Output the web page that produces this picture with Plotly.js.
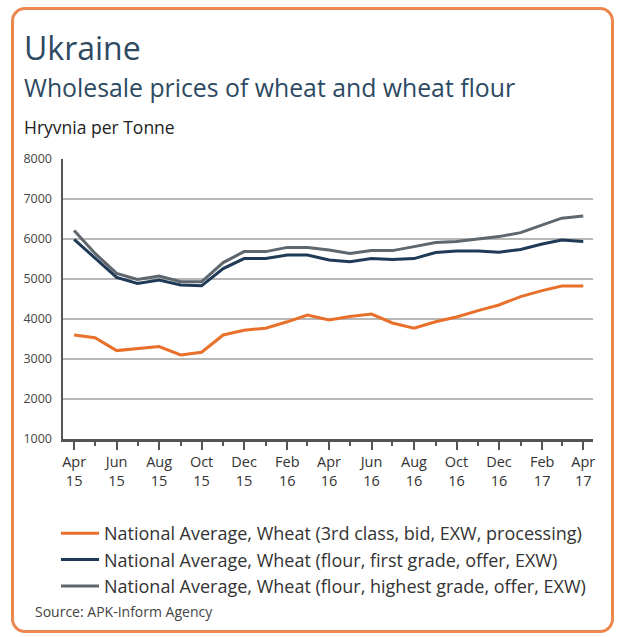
<!DOCTYPE html>
<html>
<head>
<meta charset="utf-8">
<script src="https://cdn.plot.ly/plotly-3.0.1.min.js"></script>
<style>
  html, body { margin: 0; padding: 0; background: #ffffff; }
  #wrap { position: relative; width: 619px; height: 637px; }
  #chart { position: absolute; left: 0; top: 0; width: 619px; height: 637px; }
  #frame { position: absolute; left: 11px; top: 7px; width: 597px; height: 620px;
           border: 3px solid #EE8650; border-radius: 14px; pointer-events: none; }
</style>
</head>
<body>
<div id="wrap">
  <div id="chart"></div>
  <div id="frame"></div>
</div>
<script>
// ---- data (monthly, Apr 2015 - Apr 2017), UAH per tonne ----
const months = ['2015-04-01','2015-05-01','2015-06-01','2015-07-01','2015-08-01','2015-09-01',
                '2015-10-01','2015-11-01','2015-12-01','2016-01-01','2016-02-01','2016-03-01',
                '2016-04-01','2016-05-01','2016-06-01','2016-07-01','2016-08-01','2016-09-01',
                '2016-10-01','2016-11-01','2016-12-01','2017-01-01','2017-02-01','2017-03-01',
                '2017-04-01'];
const wheat3rd = [3600, 3530, 3210, 3250, 3310, 3100, 3170, 3600, 3720, 3770, 3930, 4100,
                  3975, 4060, 4125, 3900, 3770, 3930, 4050, 4210, 4350, 4560, 4710, 4825, 4825];
const flourFirst = [5990, 5520, 5040, 4890, 4975, 4850, 4830, 5260, 5510, 5510, 5600, 5600,
                    5475, 5430, 5510, 5490, 5510, 5660, 5700, 5700, 5670, 5740, 5875, 5975, 5940];
const flourHighest = [6210, 5640, 5140, 4990, 5075, 4930, 4930, 5410, 5685, 5685, 5790, 5790,
                      5725, 5640, 5710, 5710, 5810, 5910, 5935, 6000, 6060, 6160, 6350, 6520, 6575];
const seriesNames = ['National Average, Wheat (3rd class, bid, EXW, processing)',
                     'National Average, Wheat (flour, first grade, offer, EXW)',
                     'National Average, Wheat (flour, highest grade, offer, EXW)'];
const yTicks = [1000, 2000, 3000, 4000, 5000, 6000, 7000, 8000];

// ---- layout helpers (pixel -> paper) ----
const W = 619, H = 637;
const M = { l: 63, r: 26, t: 159, b: 198 };
const PW = W - M.l - M.r, PH = H - M.t - M.b;
const px = x => (x - M.l) / PW;
const py = y => (H - M.b - y) / PH;

const FONT = 'Open Sans, Noto Sans, sans-serif';

const traces = [
  { x: months, y: wheat3rd, name: seriesNames[0], color: '#E8702A', group: 'a' },
  { x: months, y: flourFirst, name: seriesNames[1], color: '#1F3A56', group: 'b' },
  { x: months, y: flourHighest, name: seriesNames[2], color: '#5E666E', group: 'c' }
].map(s => ({
  type: 'scatter', mode: 'lines', x: s.x, y: s.y, name: s.name, legendgroup: s.group,
  line: { color: s.color, width: 3 }, hoverinfo: 'skip'
}));

const layout = {
  width: W, height: H,
  margin: M,
  paper_bgcolor: 'rgba(0,0,0,0)',
  plot_bgcolor: 'rgba(0,0,0,0)',
  font: { family: FONT, color: '#333' },
  showlegend: true,
  legend: {
    x: px(56), y: py(515), xanchor: 'left', yanchor: 'top',
    traceorder: 'grouped', tracegroupgap: 0,
    font: { family: FONT, size: 18, color: '#333' },
    bgcolor: 'rgba(0,0,0,0)', itemwidth: 38
  },
  xaxis: {
    type: 'date',
    range: ['2015-03-16', '2017-04-15'],
    tick0: '2015-04-01', dtick: 'M2', tickformat: '%b<br>%y',
    ticks: 'outside', ticklen: 8, tickwidth: 2, tickcolor: '#555',
    minor: { tick0: '2015-04-01', dtick: 'M1', ticks: 'outside', ticklen: 4, tickwidth: 2, tickcolor: '#555', showgrid: false },
    showline: true, linecolor: '#555', linewidth: 2.5,
    showgrid: false, zeroline: false,
    tickfont: { family: FONT, size: 14.5, color: '#333' }
  },
  yaxis: {
    range: [1000, 8000], tickvals: yTicks,
    ticks: 'outside', ticklen: 6, tickcolor: 'rgba(0,0,0,0)',
    showline: true, linecolor: '#555', linewidth: 2.5,
    showgrid: true, gridcolor: '#B8B8B8', gridwidth: 2.8, zeroline: false,
    tickfont: { family: FONT, size: 12.5, color: '#444' }
  },
  annotations: [
    { text: 'Ukraine', xref: 'paper', yref: 'paper', x: px(22), y: py(47), xanchor: 'left', yanchor: 'middle',
      showarrow: false, font: { family: FONT, size: 32, color: '#2E4A62' } },
    { text: 'Wholesale prices of wheat and wheat flour', xref: 'paper', yref: 'paper', x: px(22), y: py(87),
      xanchor: 'left', yanchor: 'middle', showarrow: false, font: { family: FONT, size: 24.8, color: '#2E4A62' } },
    { text: 'Hryvnia per Tonne', xref: 'paper', yref: 'paper', x: px(22), y: py(127),
      xanchor: 'left', yanchor: 'middle', showarrow: false, font: { family: FONT, size: 17.5, color: '#222' } },
    { text: 'Source: APK-Inform Agency', xref: 'paper', yref: 'paper', x: px(33), y: py(611),
      xanchor: 'left', yanchor: 'middle', showarrow: false, font: { family: FONT, size: 14, color: '#444' } }
  ]
};

Plotly.newPlot('chart', traces, layout, { displayModeBar: false, staticPlot: true });
</script>
</body>
</html>
